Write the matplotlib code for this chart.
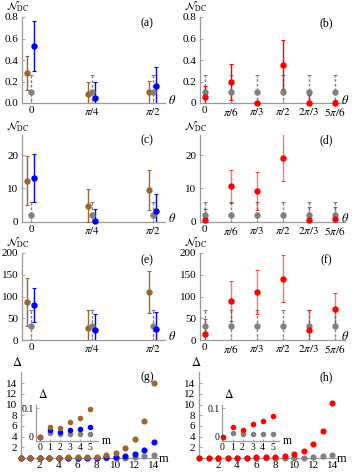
import numpy as np
import matplotlib
matplotlib.use('Agg')
import matplotlib.pyplot as plt

plt.rcParams['font.family'] = ['Liberation Serif', 'DejaVu Serif']
plt.rcParams['mathtext.fontset'] = 'stix'

W, H = 357, 474

# ---------------- data ----------------
theta3 = [0, np.pi / 4, np.pi / 2]
theta3_labels = ['0', r'$\pi/4$', r'$\pi/2$']
theta6 = [0, np.pi / 6, np.pi / 3, np.pi / 2, 2 * np.pi / 3, 5 * np.pi / 6]
theta6_labels = ['0', r'$\pi/6$', r'$\pi/3$', r'$\pi/2$', r'$2\pi/3$', r'$5\pi/6$']

a_brown = [0.28, 0.08, 0.10]
a_brown_err = [0.16, 0.12, 0.105]
a_gray = [0.10, 0.10, 0.10]
a_gray_err = [0.165, 0.165, 0.165]
a_blue = [0.53, 0.05, 0.155]
a_blue_err = [0.235, 0.15, 0.18]

b_red = [0.06, 0.195, 0.0, 0.357, 0.0, 0.0]
b_red_err = [0.095, 0.168, 0.0, 0.227, 0.07, 0.03]
b_gray = [0.10, 0.10, 0.10, 0.10, 0.10, 0.10]
b_gray_err = [0.16, 0.16, 0.16, 0.16, 0.16, 0.16]

c_brown = [12.3, 4.8, 9.5]
c_brown_err = [7.4, 4.9, 5.9]
c_gray = [2.0, 2.0, 2.0]
c_gray_err = [4.0, 4.0, 4.0]
c_blue = [13.0, 0.3, 3.3]
c_blue_err = [7.2, 3.4, 5.1]

d_red = [0.6, 10.6, 9.2, 19.2, 0.4, 0.9]
d_red_err = [3.3, 5.0, 5.8, 7.0, 4.1, 3.4]
d_gray = [2.0, 2.0, 2.0, 2.0, 2.0, 2.0]
d_gray_err = [4.0, 4.0, 4.0, 4.0, 4.0, 4.0]

e_brown = [87, 27.7, 110]
e_brown_err = [55, 41.5, 49]
e_gray = [33, 33, 33]
e_gray_err = [36, 36, 36]
e_blue = [81.5, 23, 26]
e_blue_err = [39, 37, 39]

f_red = [14.6, 90, 111, 141, 24, 71.5]
f_red_err = [34, 46, 51, 54, 44, 37]
f_gray = [33, 33, 33, 33, 33, 33]
f_gray_err = [36, 36, 36, 36, 36, 36]

m_vals = list(range(15))
g_brown = [0, 0.035, 0.03, 0.053, 0.065, 0.098, 0.13, 0.18, 0.28, 0.55, 1.0, 1.9, 3.6, 7.0, 14.0]
g_blue = [0, 0.025, 0.015, 0.024, 0.026, 0.034, 0.04, 0.05, 0.07, 0.12, 0.25, 0.45, 0.8, 1.5, 3.05]
g_gray = [0, 0.012, 0.01, 0.01, 0.01, 0.01, 0.012, 0.015, 0.02, 0.03, 0.05, 0.09, 0.15, 0.3, 0.6]
h_red = [0, 0.033, 0.024, 0.044, 0.055, 0.074, 0.1, 0.14, 0.2, 0.37, 0.75, 1.37, 2.6, 5.1, 10.3]
h_gray = [0, 0.012, 0.01, 0.01, 0.01, 0.01, 0.012, 0.015, 0.02, 0.03, 0.05, 0.09, 0.15, 0.3, 0.6]
inset_m = 6  # inset shows m = 0..5

BROWN = '#9C6630'
BLUE = '#0000FF'
RED = '#FF0000'
GRAY = '#808080'
AXC = '#999999'

fig = plt.figure(figsize=(W / 100, H / 100), dpi=100)
fig.patch.set_facecolor('white')


def px_axes(l, t, r, b):
    return fig.add_axes([l / W, 1 - b / H, (r - l) / W, (b - t) / H])


def ftext(x, y, s, **kw):
    fig.text(x / W, 1 - y / H, s, **kw)


def style(ax, fs=8):
    for s in ['top', 'right']:
        ax.spines[s].set_visible(False)
    for s in ['left', 'bottom']:
        ax.spines[s].set_color(AXC)
        ax.spines[s].set_linewidth(0.9)
    ax.tick_params(direction='in', length=2.5, width=0.6, color=AXC,
                   labelsize=fs, pad=2.5)
    ax.set_facecolor('none')


def ebar(ax, x, y, e, color, dashed=False, alpha=1.0, ms=3.6):
    cont = ax.errorbar(x, y, yerr=e, fmt='o', color=color, ms=ms,
                       ecolor=color, elinewidth=1.0, capsize=1.3,
                       capthick=0.8, zorder=3)
    for c in cont[2]:
        if dashed:
            c.set_linestyle((0, (2.0, 1.3)))
        c.set_alpha(alpha)
    for ln in cont[1]:
        ln.set_alpha(min(1.0, alpha + 0.2))
    cont[0].set_clip_on(False)
    return cont


def shift(xs, d):
    return [x + d for x in xs]


# ---------------- left column theta panels ----------------
def left_panel(top, bot, ylim, yticks, yticklabels, br, bre, gr, gre, bl, ble, label, ly):
    ax = px_axes(22, top, 165, bot)
    style(ax)
    ebar(ax, shift(theta3, -0.05), br, bre, BROWN)
    ebar(ax, theta3, gr, gre, GRAY, dashed=True)
    ebar(ax, shift(theta3, 0.04), bl, ble, BLUE)
    ax.set_xlim(-0.116, 1.726)
    ax.set_ylim(*ylim)
    ax.set_xticks(theta3)
    ax.set_xticklabels(theta3_labels)
    ax.set_yticks(yticks)
    ax.set_yticklabels(yticklabels)
    ftext(147, ly, label, fontsize=8.5, ha='center', va='center')
    ftext(172, bot - 3, r'$\theta$', fontsize=9, ha='center', va='center')
    return ax


def right_panel(top, bot, ylim, yticks, yticklabels, rd, rde, gr, gre, label, alpha, ly):
    ax = px_axes(200, top, 345, bot)
    style(ax)
    ebar(ax, theta6, gr, gre, GRAY, dashed=True)
    ebar(ax, theta6, rd, rde, RED, alpha=alpha)
    ax.set_xlim(-0.094, 2.82)
    ax.set_ylim(*ylim)
    ax.set_xticks(theta6)
    ax.set_xticklabels(theta6_labels)
    ax.set_yticks(yticks)
    ax.set_yticklabels(yticklabels)
    ftext(326, ly, label, fontsize=8.5, ha='center', va='center')
    ftext(345, bot - 3, r'$\theta$', fontsize=9, ha='center', va='center')
    return ax


left_panel(17, 103, (0, 0.8), [0, 0.2, 0.4, 0.6, 0.8], ['0.0', '0.2', '0.4', '0.6', '0.8'],
           a_brown, a_brown_err, a_gray, a_gray_err, a_blue, a_blue_err, '(a)', 23)
right_panel(17, 103, (0, 0.8), [0, 0.2, 0.4, 0.6, 0.8], ['0', '0.2', '0.4', '0.6', '0.8'],
            b_red, b_red_err, b_gray, b_gray_err, '(b)', 1.0, 23)

left_panel(135, 221.7, (0, 26), [0, 10, 20], ['0', '10', '20'],
           c_brown, c_brown_err, c_gray, c_gray_err, c_blue, c_blue_err, '(c)', 140)
right_panel(135, 221.7, (0, 26), [0, 10, 20], ['0', '10', '20'],
            d_red, d_red_err, d_gray, d_gray_err, '(d)', 0.55, 140)

left_panel(253, 340, (0, 200), [0, 50, 100, 150, 200], ['0', '50', '100', '150', '200'],
           e_brown, e_brown_err, e_gray, e_gray_err, e_blue, e_blue_err, '(e)', 260)
right_panel(253, 340, (0, 200), [0, 50, 100, 150, 200], ['0', '50', '100', '150', '200'],
            f_red, f_red_err, f_gray, f_gray_err, '(f)', 0.55, 260)

# N_DC labels
for x, y in [(18, 7), (196, 7), (18, 127), (196, 127), (18, 243), (196, 243)]:
    ftext(x, y, r'$\mathcal{N}_{\rm DC}$', fontsize=8, ha='center', va='center')


# ---------------- bottom panels ----------------
def m_panel(left, series, label, ins_left, ins_right, ins_xlim):
    ax = px_axes(left, 372, left + 137.5, 458)
    style(ax)
    for vals, col in series:
        ax.plot(m_vals, vals, 'o', color=col, ms=3.4, clip_on=False, zorder=3)
    ax.set_xlim(0, 14.45)
    ax.set_ylim(0, 16.1)
    ax.set_xticks([2, 4, 6, 8, 10, 12, 14])
    ax.set_yticks([2, 4, 6, 8, 10, 12, 14])
    ftext(left - 3, 362, r'$\Delta$', fontsize=9, ha='center', va='center')
    ftext(left + 143, 459, 'm', fontsize=9, ha='center', va='center')
    ftext(left + 127, 377, label, fontsize=8.5, ha='center', va='center')

    ins = px_axes(ins_left, 405, ins_right, 441)
    style(ins, fs=7)
    ins.tick_params(length=1.8, pad=1.5)
    for vals, col in series:
        ins.plot(m_vals[:inset_m], vals[:inset_m], 'o', color=col, ms=3.0,
                 clip_on=False, zorder=3)
    ins.set_xlim(*ins_xlim)
    ins.set_ylim(-0.015, 0.112)
    ins.set_xticks([0, 1, 2, 3, 4, 5])
    ins.set_yticks([0, 0.1])
    ins.set_yticklabels(['0', '0.1'])
    ftext(ins_left + 7, 395, r'$\Delta$', fontsize=8.5, ha='center', va='center')
    ftext(ins_right + 8, 441, 'm', fontsize=8.5, ha='center', va='center')


m_panel(20.7, [(g_gray, GRAY), (g_blue, BLUE), (g_brown, BROWN)], '(g)',
        36, 98, (-0.4, 5.8))
m_panel(199, [(h_gray, GRAY), (h_red, RED)], '(h)',
        222, 279, (-0.05, 5.65))

fig.savefig('out.png', dpi=100, facecolor='white')
